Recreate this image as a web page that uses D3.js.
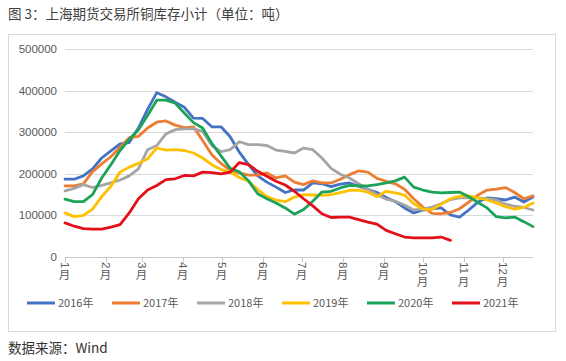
<!DOCTYPE html>
<html>
<head>
<meta charset="utf-8">
<script src="https://cdn.jsdelivr.net/npm/d3@7"></script>
<style>
  body { margin: 0; background: #fff; }
  svg { display: block; }
</style>
</head>
<body>
<script>
// weekly copper stocks at SHFE, thousand tonnes
var years = ['2016年', '2017年', '2018年', '2019年', '2020年', '2021年'];
var colors = ['#4472c4', '#ed7d31', '#a5a5a5', '#ffc000', '#1ba35a', '#e3101c'];

var s2016 = [187,187,195,212,238,255,272,275,310,355,395,385,372,360,334,333,313,313,289,252,222,195,180,168,155,161,
             161,178,176,169,175,178,170,163,155,143,133,118,106,113,116,118,101,96,113,132,142,140,137,144,132,144];
var s2017 = [171,171,176,205,224,241,264,287,290,310,324,327,317,311,313,280,246,225,208,202,197,197,202,190,195,180,
             174,183,178,178,187,198,207,204,189,182,176,163,140,120,105,104,107,116,132,149,161,163,167,155,140,147];
var s2018 = [159,165,174,167,172,178,185,195,212,258,268,296,306,308,308,302,268,253,258,277,270,270,268,257,254,250,
             262,258,238,213,199,190,176,163,150,139,134,125,113,115,120,128,138,142,142,142,140,137,127,122,119,113];
var s2019 = [106,97,100,115,145,170,204,216,225,236,262,257,258,256,250,238,222,210,204,191,182,162,145,137,133,144,
             150,149,148,150,155,160,161,156,145,158,154,149,128,115,114,127,140,146,147,142,137,130,121,115,119,130];
var s2020 = [139,133,133,150,190,222,256,283,306,340,377,377,370,346,323,310,273,243,213,205,183,152,140,130,118,103,
             114,134,156,158,166,172,171,171,174,178,183,192,168,161,156,154,155,156,145,131,118,97,94,96,85,73];
var s2021 = [82,74,68,67,67,72,78,106,140,161,172,186,188,196,195,204,203,200,204,227,222,206,194,182,173,158,
             140,123,104,95,96,96,90,84,79,64,56,48,46,46,46,48,40];
var series = [s2016, s2017, s2018, s2019, s2020, s2021];

var monthLabels = ['1月','2月','3月','4月','5月','6月','7月','8月','9月','10月','11月','12月'];
var monthStartDay = [0,31,59,90,120,151,181,212,243,273,304,334];
var yTicks = [0, 100000, 200000, 300000, 400000, 500000];

var W = 566, H = 361;
var font = '"Liberation Sans", Arial, sans-serif';
var cjk = '"Noto Sans CJK SC", "Noto Sans", sans-serif';

var svg = d3.select('body').append('svg').attr('width', W).attr('height', H);

// title and frame
svg.append('text').attr('x', 8).attr('y', 19)
  .style('font-family', cjk).style('font-size', '13.5px').style('fill', '#404040')
  .text('图 3：上海期货交易所铜库存小计（单位：吨）');

svg.append('rect').attr('x', 8.5).attr('y', 34.5).attr('width', 547).attr('height', 297)
  .style('fill', 'none').style('stroke', '#d9d9d9');

svg.append('text').attr('x', 8).attr('y', 353)
  .style('font-family', cjk).style('font-size', '13.5px').style('fill', '#333')
  .text('数据来源：Wind');

var x = d3.scaleLinear().domain([0, 357]).range([65, 533]);
var y = d3.scaleLinear().domain([0, 500000]).range([257, 49]);

// gridlines + y labels
var grid = svg.append('g');
yTicks.forEach(function(t){
  if (t > 0) {
    grid.append('line').attr('x1', 65).attr('x2', 533)
      .attr('y1', Math.round(y(t)) + 0.5).attr('y2', Math.round(y(t)) + 0.5)
      .style('stroke', '#d9d9d9');
  }
  grid.append('text').attr('x', 57).attr('y', y(t)).attr('dy', '0.35em')
    .attr('text-anchor', 'end')
    .style('font-family', font).style('font-size', '11.5px').style('fill', '#595959')
    .text(t);
});

// x axis line and month ticks
var y0 = Math.round(y(0)) + 0.5;
svg.append('line').attr('x1', 65).attr('x2', 533).attr('y1', y0).attr('y2', y0).style('stroke', '#c8c8c8');
monthStartDay.forEach(function(d, i){
  var tx = Math.round(x(d)) + 0.5;
  svg.append('line').attr('x1', tx).attr('x2', tx).attr('y1', y0).attr('y2', y0 + 5).style('stroke', '#c8c8c8');
  // vertical label: digits turned sideways, 月 upright
  var num = monthLabels[i].replace('月', '');
  var g = svg.append('g').attr('transform', 'translate(' + (tx - 1) + ',262)');
  var digitLen = num.length * 6.4;
  g.append('text').attr('transform', 'rotate(90)').attr('x', 0).attr('y', 0)
    .attr('dominant-baseline', 'central')
    .style('font-family', font).style('font-size', '11.5px').style('fill', '#595959')
    .text(num);
  g.append('text').attr('x', 0).attr('y', digitLen + 11).attr('text-anchor', 'middle')
    .style('font-family', cjk).style('font-size', '11.5px').style('fill', '#595959')
    .text('月');
});

// series lines
var line = d3.line()
  .x(function(d, i){ return x(i * 7); })
  .y(function(d){ return y(d * 1000); });

series.forEach(function(s, k){
  svg.append('path').attr('d', line(s))
    .style('fill', 'none').style('stroke', colors[k]).style('stroke-width', 2.8)
    .style('stroke-linejoin', 'round').style('stroke-linecap', 'round');
});

// legend
years.forEach(function(name, k){
  var lx = 27 + k * 85;
  svg.append('line').attr('x1', lx).attr('x2', lx + 28).attr('y1', 303).attr('y2', 303)
    .style('stroke', colors[k]).style('stroke-width', 3);
  svg.append('text').attr('x', lx + 31).attr('y', 303).attr('dy', '0.36em')
    .style('font-family', cjk).style('font-size', '11px').style('fill', '#595959')
    .text(name);
});
</script>
</body>
</html>
